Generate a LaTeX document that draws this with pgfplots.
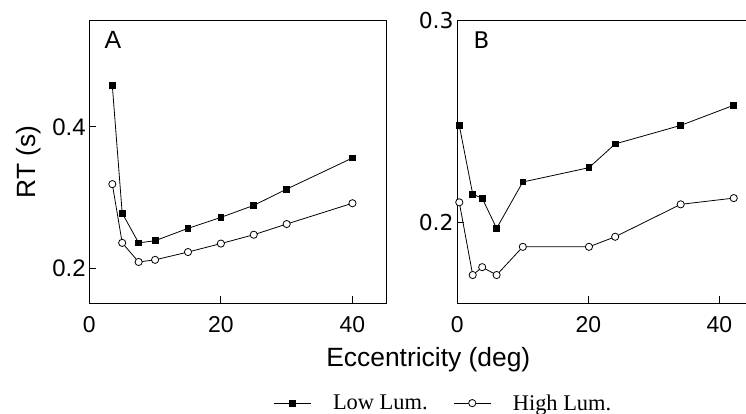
\documentclass[border=0pt]{standalone}
\usepackage{pgfplots}
\pgfplotsset{compat=1.18}
\usepackage{fontspec}
\setmainfont{Liberation Sans}
\newfontfamily\dejavu{DejaVu Sans}
\newfontfamily\timesL{Liberation Serif}
\begin{document}
\begin{tikzpicture}[x=1bp,y=1bp]
\useasboundingbox (0,0) rectangle (746,413);
\pgfplotsset{
  every axis/.append style={
    scale only axis, clip=false,
    axis line style={line width=0.9bp},
    tick style={line width=0.8bp, black},
    major tick length=7bp,
    tick pos=left, tick align=inside,
    /pgf/number format/assume math mode=true,
    xtick={0,20,40}, xticklabels={0,20,40},
    xticklabel style={font=\fontsize{23}{26}\selectfont, inner sep=0pt, anchor=north, yshift=-13.5bp},
    yticklabel style={inner sep=0pt, anchor=east, xshift=-3.5bp},
  },
  lowlum/.style={black, line width=0.8bp, mark=square*, mark size=2.9bp, mark options={solid, fill=black}},
  highlum/.style={black, line width=0.8bp, mark=*, mark size=3.6bp, mark options={solid, fill=white, line width=0.8bp}},
}
\begin{axis}[
  at={(89.3bp,110bp)}, anchor=south west,
  width=296.7bp, height=282.3bp,
  xmin=0, xmax=45.1, ymin=0.151, ymax=0.55,
  ytick={0.2,0.4}, yticklabels={0.2,0.4},
  yticklabel style={font=\fontsize{24}{27}\selectfont},
  legend columns=-1,
  legend image code/.code={\draw[mark repeat=2,mark phase=2] plot coordinates {(0bp,0bp) (18.5bp,0bp) (37bp,0bp)};},
  legend style={draw=none, fill=none, inner sep=0pt,
    at={(0.6202,-0.3546)}, anchor=west,
    font=\timesL\fontsize{22.5}{25}\selectfont,
    nodes={inner sep=0pt}, column sep=21.7bp,
    /tikz/every even column/.append style={column sep=25.7bp}},
]
\addplot[lowlum] coordinates {(3.5,0.458) (5,0.278) (7.5,0.236) (10,0.239) (15,0.2565) (20,0.272) (25,0.289) (30,0.312) (40,0.356)};
\addlegendentry{Low Lum.}
\addplot[highlum] coordinates {(3.5,0.319) (5,0.236) (7.5,0.209) (10,0.212) (15,0.223) (20,0.235) (25,0.2475) (30,0.2626) (40,0.292)};
\addlegendentry{High Lum.}
\end{axis}
\begin{axis}[
  at={(457.3bp,110bp)}, anchor=south west,
  width=290.7bp, height=282.3bp,
  xmin=0, xmax=44.38, ymin=0.1598, ymax=0.3,
  ytick={0.2,0.3}, yticklabels={0.2,0.3},
  yticklabel style={font=\dejavu\fontsize{22}{25}\selectfont},
]
\addplot[lowlum] coordinates {(0.3,0.248) (2.35,0.2139) (3.8,0.2118) (6,0.1969) (10,0.2199) (20.1,0.227) (24.1,0.2388) (34.1,0.248) (42.2,0.258)};
\addplot[highlum] coordinates {(0.3,0.2098) (2.35,0.1737) (3.8,0.1776) (6,0.1737) (10,0.1877) (20.1,0.1877) (24.1,0.1927) (34.1,0.2088) (42.2,0.2119)};
\end{axis}
\node[anchor=base west, inner sep=0pt, font=\fontsize{25}{28}\selectfont] at (104.3,364.7) {A};
\node[anchor=base west, inner sep=0pt, font=\dejavu\fontsize{23}{26}\selectfont] at (473.3,364.7) {B};
\node[rotate=90, inner sep=0pt, font=\fontsize{26.5}{30}\selectfont] at (29,251) {RT (s)};
\node[anchor=base, inner sep=0pt, font=\fontsize{26.5}{30}\selectfont] at (428.3,46.3) {Eccentricity (deg)};
\end{tikzpicture}
\end{document}
